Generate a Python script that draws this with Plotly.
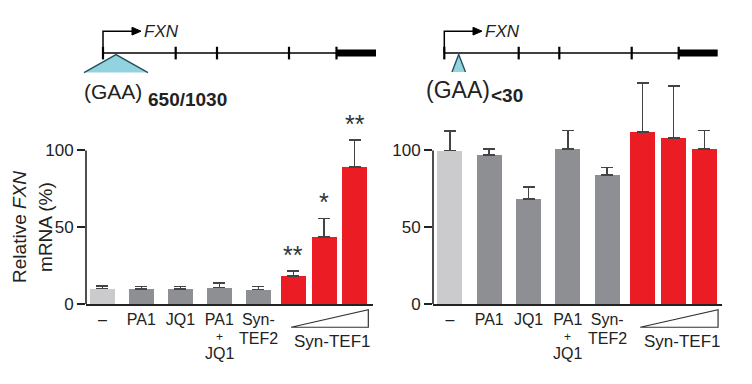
import plotly.graph_objects as go

# ---------------- data ----------------
conditions = ["—", "PA1", "JQ1", "PA1+JQ1", "Syn-TEF2", "Syn-TEF1 low", "Syn-TEF1 mid", "Syn-TEF1 high"]
tick_labels = ["–", "PA1", "JQ1", "PA1<br>+<br>JQ1", "Syn-<br>TEF2"]
group_label = "Syn-TEF1"

expanded_mean = [10.1, 9.6, 9.6, 10.8, 9.3, 18.2, 43.5, 89.4]
expanded_err = [1.5, 1.6, 1.6, 2.7, 1.9, 3.1, 12.2, 17.4]
expanded_sig = ["", "", "", "", "", "**", "*", "**"]

normal_mean = [100, 97, 68.5, 101, 84, 112, 108, 101]
normal_err = [12.5, 4, 7.5, 12, 4.8, 32, 34, 12]

y_ticks = [0, 50, 100]
left_repeat = "650/1030"
right_repeat = "<30"

# ---------------- styling / layout ----------------
W, H = 752, 384
FONT = "Liberation Sans, Arial, sans-serif"
C_LIGHT = "#cbcbcd"
C_GRAY = "#8e8f93"
C_RED = "#ec1c24"
AX = "#222222"
colors = [C_LIGHT] + [C_GRAY] * 4 + [C_RED] * 3

gray_pos = [0, 1, 2, 3, 4]
red_pos = [4.9, 5.69, 6.47]
xpos = gray_pos + red_pos

Y0_PX = 312.0     # pixel row of value 0
PX_PER_UNIT = 1.575
YMAX = 150


def px(x):
    return x / W


def py(y):
    return 1 - y / H


fig = go.Figure()

for means, errs, xa, ya in [(expanded_mean, expanded_err, "x", "y"),
                            (normal_mean, normal_err, "x2", "y2")]:
    fig.add_trace(go.Bar(
        x=xpos, y=means, width=0.64, marker=dict(color=colors, line=dict(width=0)),
        error_y=dict(type="data", array=errs, arrayminus=[0] * len(errs), symmetric=False,
                     color="#444444", thickness=1.6, width=6),
        xaxis=xa, yaxis=ya, showlegend=False, hoverinfo="skip"))

ydom = [py(Y0_PX), py(Y0_PX - YMAX * PX_PER_UNIT)]
first_lines = [t.split("<br>")[0] for t in tick_labels]
axcommon = dict(zeroline=False, showgrid=False)
xdom1 = [px(86), px(373)]
xdom2 = [px(433), px(722)]
ycommon = dict(domain=ydom, range=[0, YMAX], tickvals=y_ticks, ticks="outside", ticklen=8,
               tickwidth=1.6, tickcolor=AX, tickfont=dict(size=17), showline=False, **axcommon)
fig.update_layout(
    width=W, height=H, margin=dict(l=0, r=0, t=0, b=0),
    paper_bgcolor="white", plot_bgcolor="white",
    font=dict(family=FONT, color=AX),
    bargap=0,
    xaxis=dict(domain=xdom1, range=[-0.42, 6.94], tickvals=gray_pos, ticktext=first_lines,
               ticks="", tickfont=dict(size=16), anchor="y", showline=True, linecolor=AX,
               linewidth=1.6, **axcommon),
    xaxis2=dict(domain=xdom2, range=[-0.43, 6.92], tickvals=gray_pos, ticktext=first_lines,
                ticks="", tickfont=dict(size=16), anchor="y2", showline=True, linecolor=AX,
                linewidth=1.6, **axcommon),
    yaxis=dict(anchor="x", **ycommon),
    yaxis2=dict(anchor="x2", **ycommon),
)

ann = []
shapes = []

# y axis lines only up to the top tick
for yr, xd in [("y", xdom1), ("y2", xdom2)]:
    shapes.append(dict(type="line", xref="paper", yref=yr, x0=xd[0], x1=xd[0],
                       y0=y_ticks[0], y1=y_ticks[-1], line=dict(color=AX, width=1.6)))

# extra lines of multi-line tick labels
for xa in ["x", "x2"]:
    for p, t in zip(gray_pos, tick_labels):
        lines = t.split("<br>")
        if len(lines) == 3:
            extra = [(346, 12), (363, 16)]
        else:
            extra = [(348, 16)]
        for (ly_, fs), line in zip(extra, lines[1:]):
            ann.append(dict(x=p, xref=xa, y=py(ly_), yref="paper", text=line,
                            showarrow=False, font=dict(size=fs), xanchor="center", yanchor="middle"))
    # Syn-TEF1 wedge + label
    x0 = red_pos[0] - 0.06
    x1 = red_pos[2] + 0.35
    shapes.append(dict(type="path", xref=xa, yref="paper",
                       path=f"M {x0},{py(336)} L {x1},{py(336)} L {x1},{py(318)} Z",
                       line=dict(color="#333333", width=1.2), fillcolor="rgba(0,0,0,0)"))
    ann.append(dict(x=(red_pos[0] + red_pos[2]) / 2 + 0.22, xref=xa, y=py(351), yref="paper",
                    text=group_label, showarrow=False, font=dict(size=17),
                    xanchor="center", yanchor="middle"))

# significance stars
for p, m, e, s in zip(xpos, expanded_mean, expanded_err, expanded_sig):
    if s:
        ann.append(dict(x=p, xref="x", y=m + e, yref="y", text=s, showarrow=False,
                        font=dict(size=25, color="#333333"), xanchor="center", yanchor="bottom",
                        yshift=0))

# y axis title (left)
ann.append(dict(x=px(20), y=py(233), xref="paper", yref="paper", text="Relative <i>FXN</i>",
                textangle=-90, showarrow=False, font=dict(size=19), xanchor="center", yanchor="middle"))
ann.append(dict(x=px(46), y=py(233), xref="paper", yref="paper", text="mRNA (%)",
                textangle=-90, showarrow=False, font=dict(size=19), xanchor="center", yanchor="middle"))


# ---------------- gene diagrams ----------------
def gene(start, ticks, thick_end, tri, arrow_end, texts):
    ly = 54.5
    shapes.append(dict(type="line", xref="paper", yref="paper", x0=px(start), x1=px(ticks[-1]),
                       y0=py(ly), y1=py(ly), line=dict(color="black", width=1.5)))
    shapes.append(dict(type="line", xref="paper", yref="paper", x0=px(ticks[-1]), x1=px(thick_end),
                       y0=py(ly), y1=py(ly), line=dict(color="black", width=7)))
    for t in [start] + ticks:
        shapes.append(dict(type="line", xref="paper", yref="paper", x0=px(t), x1=px(t),
                           y0=py(48), y1=py(61), line=dict(color="black", width=2.2)))
    # arrow
    shapes.append(dict(type="path", xref="paper", yref="paper",
                       path=f"M {px(start)},{py(ly)} L {px(start)},{py(32)} L {px(arrow_end - 8)},{py(32)}",
                       line=dict(color="black", width=1.5)))
    shapes.append(dict(type="path", xref="paper", yref="paper",
                       path=f"M {px(arrow_end - 9)},{py(28)} L {px(arrow_end)},{py(32)} L {px(arrow_end - 9)},{py(36)} Z",
                       line=dict(color="black", width=1), fillcolor="black"))
    # GAA triangle
    ax_, ay_, bl, br, by = tri
    shapes.append(dict(type="path", xref="paper", yref="paper",
                       path=f"M {px(bl)},{py(by)} L {px(ax_)},{py(ay_)} L {px(br)},{py(by)} Z",
                       line=dict(width=0), fillcolor="#93d3e0"))
    shapes.append(dict(type="path", xref="paper", yref="paper",
                       path=f"M {px(bl)},{py(by)} L {px(ax_)},{py(ay_)} L {px(br)},{py(by)}",
                       line=dict(color="#24505c", width=1.4)))
    fx, gx, gy, gsize, sx, sy, sub = texts
    ann.append(dict(x=px(fx), y=py(32), xref="paper", yref="paper", text="<i>FXN</i>",
                    showarrow=False, font=dict(size=17), xanchor="left", yanchor="middle"))
    ann.append(dict(x=px(gx), y=py(gy), xref="paper", yref="paper", text="(GAA)",
                    showarrow=False, font=dict(size=gsize), xanchor="left", yanchor="middle"))
    ann.append(dict(x=px(sx), y=py(sy), xref="paper", yref="paper", text=f"<b>{sub}</b>",
                    showarrow=False, font=dict(size=19), xanchor="left", yanchor="middle"))


gene(103, [175.7, 217, 289, 336.5], 376, (116, 56, 84, 148, 74.5), 141,
     (142, 82, 94, 21, 146, 102, left_repeat.replace("<", "&lt;")))
gene(444.3, [518.7, 559.3, 631.7, 678.7], 717.7, (458.7, 56, 452, 465.5, 74), 482,
     (483, 424, 92, 23, 489, 98, right_repeat.replace("<", "&lt;")))

fig.update_layout(annotations=ann, shapes=shapes)
fig.write_html("out.html", config={"displayModeBar": False},
               post_script="document.body.style.margin='0';document.body.style.overflow='hidden';")
